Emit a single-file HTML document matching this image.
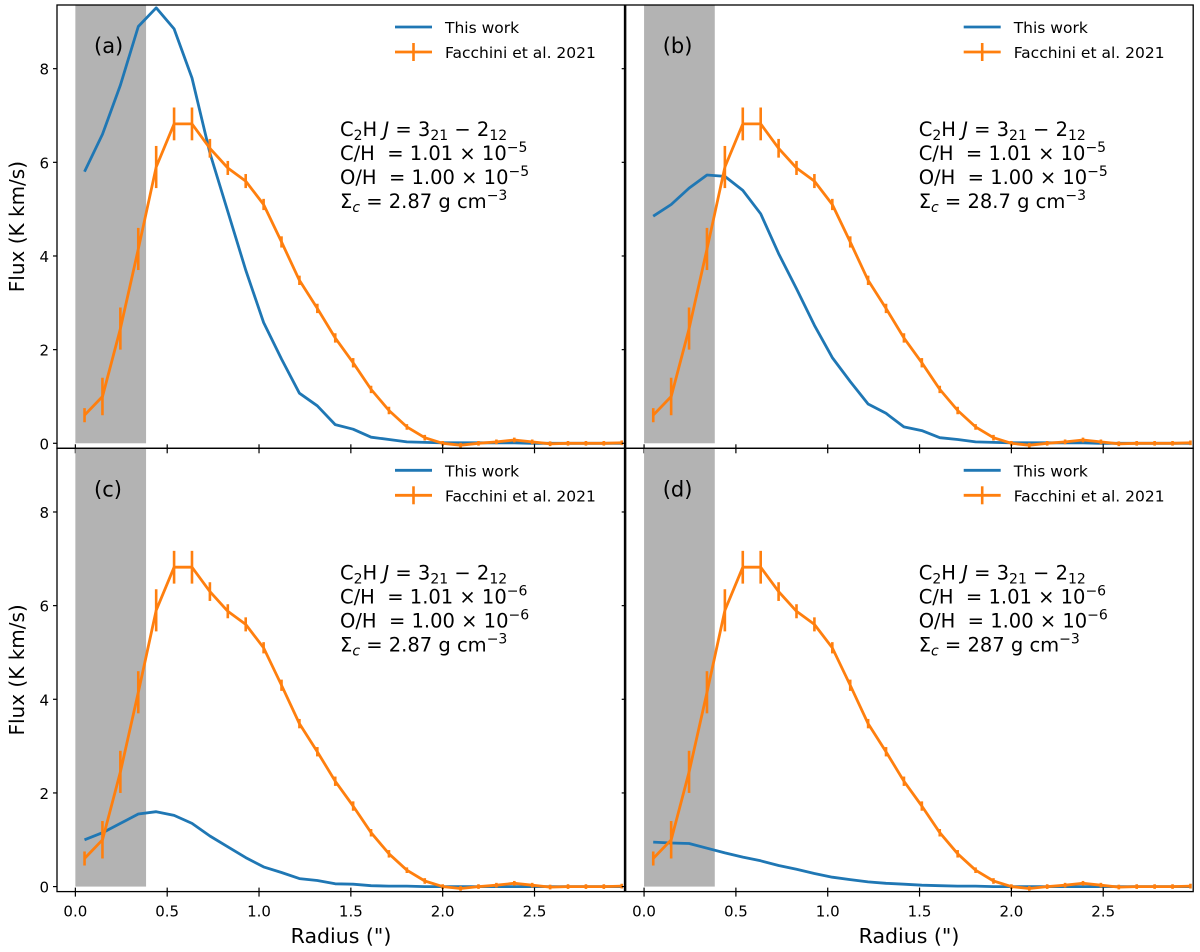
<!DOCTYPE html>
<html><head><meta charset="utf-8"><style>
body{margin:0;background:#fff;}
svg{display:block;font-family:"DejaVu Sans","Liberation Sans",sans-serif;}
</style></head><body>
<svg id="fig" width="1200" height="952" viewBox="0 0 1200 952" xmlns="http://www.w3.org/2000/svg"></svg>
<script>
const radiusX = [0.05,0.1475,0.245,0.3425,0.44,0.5375,0.635,0.7325,0.83,0.9275,1.025,1.1225,1.22,1.3175,1.415,1.5125,1.61,1.7075,1.805,1.9025,2.0,2.0975,2.195,2.2925,2.39,2.4875,2.585,2.6825,2.78,2.8775,2.975];
const obsFlux = [0.6,1.0,2.45,4.15,5.9,6.82,6.82,6.3,5.88,5.6,5.1,4.3,3.48,2.88,2.25,1.72,1.15,0.7,0.35,0.12,0.0,-0.04,0.0,0.03,0.07,0.03,-0.01,0.0,0.0,0.0,0.01];
const obsErr = [0.15,0.4,0.45,0.45,0.45,0.35,0.35,0.2,0.15,0.15,0.12,0.12,0.1,0.1,0.1,0.1,0.08,0.08,0.06,0.06,0.05,0.05,0.05,0.05,0.05,0.05,0.05,0.05,0.05,0.05,0.05];
const modelA = [5.8,6.6,7.65,8.9,9.3,8.85,7.8,6.2,4.95,3.7,2.58,1.8,1.07,0.8,0.4,0.3,0.13,0.08,0.03,0.02,0.01,0.01,0.01,0.01,0.01,0.0,0.0,0.0,0.0,0.0,0.0];
const modelB = [4.85,5.1,5.45,5.73,5.7,5.4,4.9,4.05,3.3,2.52,1.83,1.32,0.84,0.64,0.35,0.27,0.12,0.08,0.03,0.02,0.01,0.01,0.01,0.01,0.01,0.0,0.0,0.0,0.0,0.0,0.0];
const modelC = [1.0,1.15,1.35,1.55,1.6,1.52,1.35,1.08,0.85,0.62,0.42,0.3,0.17,0.13,0.06,0.05,0.02,0.01,0.01,0.0,0.0,0.0,0.0,0.0,0.0,0.0,0.0,0.0,0.0,0.0,0.0];
const modelD = [0.95,0.93,0.92,0.82,0.72,0.63,0.55,0.45,0.37,0.28,0.2,0.15,0.1,0.07,0.05,0.03,0.02,0.01,0.01,0.0,0.0,0.0,0.0,0.0,0.0,0.0,0.0,0.0,0.0,0.0,0.0];
const xTicks = [0.0,0.5,1.0,1.5,2.0,2.5];
const yTicks = [0,2,4,6,8];
const panelLabels = ["(a)","(b)","(c)","(d)"];
const abund = ["1.01","1.01","1.01","1.01"];
const expo = ["−5","−5","−6","−6"];
const sigma = ["2.87","28.7","2.87","287"];
const shadeMax = 0.385;

const NS="http://www.w3.org/2000/svg";
const svg=document.getElementById('fig');
function mk(tag,attrs,parent){const e=document.createElementNS(NS,tag);for(const k in attrs)e.setAttribute(k,attrs[k]);(parent||svg).appendChild(e);return e;}
const models=[modelA,modelB,modelC,modelD];
const panels=[{x0:57,y0:5},{x0:625.7,y0:5},{x0:57,y0:448.3},{x0:625.7,y0:448.3}];
const PW=567.5, PH=443.3, XMIN=-0.1, XMAX=2.99, YMIN=-0.107, YMAX=9.36;
panels.forEach((p,i)=>{
  const sx=v=>p.x0+(v-XMIN)/(XMAX-XMIN)*PW;
  const sy=v=>p.y0+PH-(v-YMIN)/(YMAX-YMIN)*PH;
  const g=mk('g',{});
  
  
  const cid='clip'+i;
  const cp=mk('clipPath',{id:cid},g);mk('rect',{x:p.x0,y:p.y0,width:PW,height:PH},cp);
  const shade=mk('rect',{x:sx(0),y:p.y0,width:sx(shadeMax)-sx(0),height:sy(0)-p.y0,fill:'#b3b3b3'},g);
  
  
  const cg=mk('g',{'clip-path':'url(#'+cid+')'},g);
  const mpts=models[i].map((v,j)=>sx(radiusX[j]).toFixed(1)+','+sy(v).toFixed(1)).join(' ');
  const ml=mk('polyline',{points:mpts,fill:'none',stroke:'#1f77b4','stroke-width':2.8,'stroke-linejoin':'round'},cg);
  
  
  const opts=obsFlux.map((v,j)=>sx(radiusX[j]).toFixed(1)+','+sy(v).toFixed(1)).join(' ');
  const ol=mk('polyline',{points:opts,fill:'none',stroke:'#ff7f0e','stroke-width':2.8,'stroke-linejoin':'round'},cg);
  
  
  obsFlux.forEach((v,j)=>{
    const eb=mk('line',{x1:sx(radiusX[j]),x2:sx(radiusX[j]),y1:sy(v-obsErr[j]),y2:sy(v+obsErr[j]),stroke:'#ff7f0e','stroke-width':2.6},cg);
    
    
  });
  const fr=mk('rect',{x:p.x0,y:p.y0,width:PW,height:PH,fill:'none',stroke:'#000','stroke-width':1.3},g);
  
  
  yTicks.forEach(t=>{
    mk('line',{x1:p.x0-4,x2:p.x0,y1:sy(t),y2:sy(t),stroke:'#000','stroke-width':1.2},g);
    if(i%2===0){const tl=mk('text',{x:p.x0-8,y:sy(t)+6,'font-size':15,'text-anchor':'end'},g);tl.textContent=t;
      
      }
  });
  xTicks.forEach(t=>{
    mk('line',{x1:sx(t),x2:sx(t),y1:p.y0+PH-4,y2:p.y0+PH+5,stroke:'#000','stroke-width':1.2},g);
    if(i>=2){const tl=mk('text',{x:sx(t),y:p.y0+PH+25,'font-size':15,'text-anchor':'middle'},g);tl.textContent=t.toFixed(1);
      
      }
  });
  const pl=mk('text',{x:p.x0+37,y:p.y0+48,'font-size':21},g);pl.textContent=panelLabels[i];
  
  
  const lx=p.x0+338;
  mk('line',{x1:lx,x2:lx+37,y1:p.y0+22,y2:p.y0+22,stroke:'#1f77b4','stroke-width':2.8},g);
  const l1=mk('text',{x:lx+50,y:p.y0+28,'font-size':15.5},g);l1.textContent='This work';
  
  
  mk('line',{x1:lx,x2:lx+37,y1:p.y0+47,y2:p.y0+47,stroke:'#ff7f0e','stroke-width':2.8},g);
  mk('line',{x1:lx+18.5,x2:lx+18.5,y1:p.y0+38,y2:p.y0+56,stroke:'#ff7f0e','stroke-width':2.6},g);
  const l2=mk('text',{x:lx+50,y:p.y0+53,'font-size':15.5},g);l2.textContent='Facchini et al. 2021';
  
  
  const ax=p.x0+283+(i%2?10:0), ay=p.y0+131;
  const ann=mk('g',{'font-size':19.5},g);
  
  
  ann.innerHTML=
   `<text x="${ax}" y="${ay}">C<tspan font-size="14" dy="4">2</tspan><tspan dy="-4">H </tspan><tspan font-style="italic">J</tspan> = 3<tspan font-size="14" dy="4">21</tspan><tspan dy="-4"> − 2</tspan><tspan font-size="14" dy="4">12</tspan></text>`+
   `<text x="${ax}" y="${ay+24}" xml:space="preserve">C/H  = ${abund[i]} × 10<tspan font-size="14" dy="-8">${expo[i]}</tspan></text>`+
   `<text x="${ax}" y="${ay+48}" xml:space="preserve">O/H  = 1.00 × 10<tspan font-size="14" dy="-8">${expo[i]}</tspan></text>`+
   `<text x="${ax}" y="${ay+72}">Σ<tspan font-size="14" dy="4" font-style="italic">c</tspan><tspan dy="-4"> = ${sigma[i]} g cm</tspan><tspan font-size="14" dy="-8">−3</tspan></text>`;
});
[226.6,669.9].forEach(cy=>{
  const t=mk('text',{x:0,y:0,'font-size':20,'text-anchor':'middle',transform:`translate(24,${cy}) rotate(-90)`});
  t.textContent='Flux (K km/s)';
  
  
});
[341,909].forEach(cx=>{
  const t=mk('text',{x:cx,y:943,'font-size':20.5,'text-anchor':'middle'});
  t.textContent='Radius (")';
  
  
});
</script>
</body></html>
